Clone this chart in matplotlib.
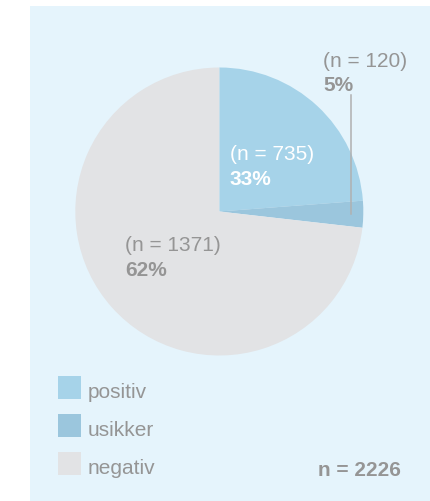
import matplotlib
matplotlib.use("Agg")
import matplotlib.pyplot as plt
from matplotlib.patches import Rectangle
from matplotlib.lines import Line2D

plt.rcParams['font.family'] = ['Liberation Sans', 'DejaVu Sans']

# data (wedge shares as drawn in the picture, labels as printed)
categories = ["positiv", "usikker", "negativ"]
wedge_shares = [23.8, 3.0, 73.2]
counts = [735, 120, 1371]
percent_labels = ["33%", "5%", "62%"]
total_n = 2226
colors = ["#a6d3e9", "#9bc6dd", "#e2e3e5"]

W, H = 431, 501
BG = "#e5f4fc"
GREY = "#959595"

fig = plt.figure(figsize=(W / 100, H / 100), dpi=100)


def fx(x):
    return x / W


def fy(y):
    return 1 - y / H


# light blue panel
fig.patches.append(Rectangle((fx(30), 0), 1 - fx(30), fy(6), transform=fig.transFigure,
                             facecolor=BG, edgecolor="none", zorder=-5))

# pie, centre (219.3, 211.5), radius 144 px
cx, cy, r = 219.3, 211.5, 144
ax = fig.add_axes([fx(cx - r), fy(cy + r), 2 * r / W, 2 * r / H])
ax.set_zorder(1)
ax.pie(wedge_shares, colors=colors, startangle=90, counterclock=False,
       wedgeprops=dict(linewidth=0))
ax.set_xlim(-1, 1)
ax.set_ylim(-1, 1)
ax.axis("off")

# leader line for the small slice
fig.lines.append(Line2D([fx(351), fx(351)], [fy(95), fy(214)], transform=fig.transFigure,
                        color="#b0b0b0", linewidth=1.1, zorder=5))

fs = 15
label_pos = [(230, 160.5, "white"), (323, 66.5, GREY), (125, 251, GREY)]
for (x, y, c), n, p in zip(label_pos, counts, percent_labels):
    fig.text(fx(x), fy(y), f"(n = {n})", color=c, fontsize=fs, va="baseline", ha="left", zorder=6)
    fig.text(fx(x), fy(y + 24.5), p, color=c, fontsize=fs, fontweight="bold",
             va="baseline", ha="left", zorder=6)

# legend
for i, (cat, col) in enumerate(zip(categories, colors)):
    top = 376 + i * 38
    fig.patches.append(Rectangle((fx(58), fy(top + 23)), 23 / W, 23 / H,
                                 transform=fig.transFigure, facecolor=col,
                                 edgecolor="none", zorder=2))
    fig.text(fx(88), fy(top + 21.5), cat, color=GREY, fontsize=fs, va="baseline", ha="left")

fig.text(fx(401), fy(475.5), f"n = {total_n}", color=GREY, fontsize=fs,
         fontweight="bold", va="baseline", ha="right")

plt.savefig("out.png", dpi=100)
